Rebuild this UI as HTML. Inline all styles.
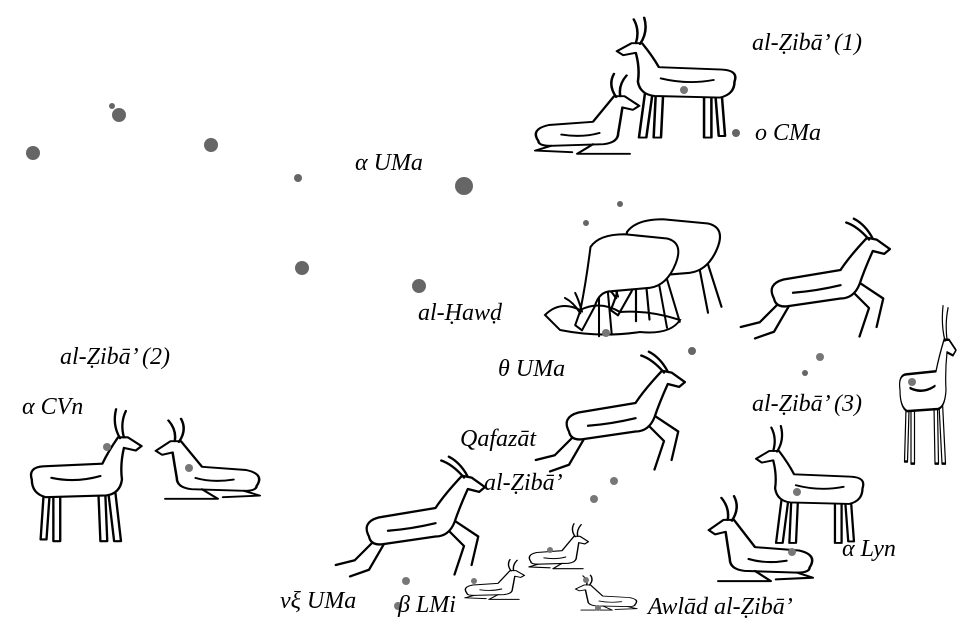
<!DOCTYPE html>
<html><head><meta charset="utf-8"><style>
html,body{margin:0;padding:0;background:#fff}
svg{display:block}
text{font-family:"Liberation Serif",serif;font-style:italic;font-size:24px;fill:#000}
.g path,.g rect{stroke:#000;stroke-width:2.4;fill:#fff;stroke-linejoin:round;stroke-linecap:round}
.g .l{fill:none}
</style></head><body>
<svg width="975" height="627" viewBox="0 0 975 627">
<defs>
<g id="stand" class="g">
<path d="M22,80 l-3,50 l6,0 l3,-48 Z"/><path d="M32,80 l0,52 l7,0 l0,-52 Z"/>
<path d="M78,78 l2,54 l7,0 l-2,-54 Z"/><path d="M88,76 l6,56 l7,0 l-6,-58 Z"/>
<path d="M10,62 Q6,48 22,47 L82,44 Q88,30 98,14 L108,14 L122,24 L116,29 L104,26 Q100,45 102,62 Q100,78 86,80 L24,82 Q10,78 10,62 Z"/>
<path class="l" d="M100,15 Q92,0 96,-18 M104,14 Q100,-2 106,-16 M30,60 Q55,66 80,58"/>
</g>
<g id="sit" class="g">
<path d="M8,70 Q0,55 18,50 L60,46 Q70,30 80,14 L90,14 L104,26 L98,31 L88,28 Q86,45 84,60 Q84,72 70,74 L20,76 Q8,76 8,70 Z"/>
<path class="l" d="M82,15 Q74,0 80,-14 M86,14 Q84,0 92,-12 M20,76 L5,82 L40,84 M60,74 L45,86 L95,86 M30,62 Q50,66 66,60"/>
</g>
<g id="leap" class="g">
<path class="l" d="M30,70 L5,95 L-15,100 M38,74 L20,105 L0,112 M100,60 L120,80 L110,110 M108,52 L135,70 L128,100"/>
<path d="M20,70 Q12,55 30,50 L90,40 Q100,25 118,6 L128,8 L142,18 L136,23 L124,20 Q115,40 110,55 Q104,70 90,70 L35,78 Q22,80 20,70 Z"/>
<path class="l" d="M120,8 Q108,-6 96,-10 M124,7 Q116,-8 104,-14 M40,64 Q65,62 90,56"/>
</g>
<g id="graze" class="g">
<path class="l" d="M40,70 l0,55 M50,68 l5,55 M110,60 l10,55 M120,58 l15,50"/>
<path d="M30,20 Q40,5 70,5 L120,10 Q140,15 130,40 Q120,65 100,68 L55,72 Q40,72 35,90 L20,118 L12,112 L18,95 Q25,60 30,20 Z"/>
<path class="l" d="M18,98 Q10,85 0,80 M20,96 Q16,82 12,74"/>
</g>
</defs>

<g fill="#666">
<circle cx="33" cy="153" r="7"/><circle cx="119" cy="115" r="7"/><circle cx="112" cy="106" r="3"/>
<circle cx="211" cy="145" r="7"/><circle cx="298" cy="178" r="4"/><circle cx="464" cy="186" r="9"/>
<circle cx="302" cy="268" r="7"/><circle cx="419" cy="286" r="7"/><circle cx="586" cy="223" r="3"/>
<circle cx="620" cy="204" r="3"/><circle cx="692" cy="351" r="4"/><circle cx="736" cy="133" r="4"/>
<circle cx="805" cy="373" r="3"/>
</g>

<use href="#stand" transform="translate(745,32) scale(-1,1) scale(1.05,0.8)"/>
<use href="#sit" transform="translate(530,85) scale(1.05,0.8)"/>
<use href="#graze" transform="translate(600,215) scale(0.9,0.85)"/>
<use href="#graze" transform="translate(565,230) scale(0.85,0.85)"/>
<path d="M545,315 Q560,300 580,310 Q600,300 620,312 Q650,310 680,320 Q670,335 640,332 Q600,338 560,330 Z" fill="none" stroke="#000" stroke-width="2"/>
<use href="#leap" transform="translate(755,232) scale(0.95,0.95)"/>
<use href="#stand" transform="translate(895,325) scale(0.5,1.05)"/>
<use href="#leap" transform="translate(550,365) scale(0.95,0.95)"/>
<use href="#leap" transform="translate(350,470) scale(0.95,0.95)"/>
<use href="#stand" transform="translate(22,425) scale(0.98,0.88)"/>
<use href="#sit" transform="translate(265,430) scale(-1.05,0.8)"/>
<use href="#stand" transform="translate(872,440) scale(-0.95,0.78)"/>
<use href="#sit" transform="translate(818,508) scale(-1.05,0.85)"/>
<use href="#sit" transform="translate(462,565) scale(0.6,0.4)"/>
<use href="#sit" transform="translate(526,530) scale(0.6,0.45)"/>
<use href="#sit" transform="translate(640,580) scale(-0.62,0.35)"/>

<g fill="#777">
<circle cx="684" cy="90" r="4"/><circle cx="606" cy="333" r="4"/><circle cx="820" cy="357" r="4"/>
<circle cx="912" cy="382" r="4"/><circle cx="107" cy="447" r="4"/><circle cx="189" cy="468" r="4"/>
<circle cx="614" cy="481" r="4"/><circle cx="594" cy="499" r="4"/><circle cx="797" cy="492" r="4"/>
<circle cx="792" cy="552" r="4"/><circle cx="406" cy="581" r="4"/><circle cx="398" cy="606" r="4"/>
<circle cx="474" cy="581" r="3"/><circle cx="550" cy="550" r="3"/><circle cx="598" cy="608" r="3"/>
<circle cx="586" cy="580" r="3"/>
</g>

<text x="752" y="50">al-Ẓibā’ (1)</text>
<text x="755" y="140">ο CMa</text>
<text x="355" y="170">α UMa</text>
<text x="418" y="320">al-Ḥawḍ</text>
<text x="498" y="376">θ UMa</text>
<text x="60" y="364">al-Ẓibā’ (2)</text>
<text x="22" y="414">α CVn</text>
<text x="752" y="411">al-Ẓibā’ (3)</text>
<text x="460" y="446">Qafazāt</text>
<text x="484" y="490">al-Ẓibā’</text>
<text x="842" y="556">α Lyn</text>
<text x="280" y="608">νξ UMa</text>
<text x="398" y="612">β LMi</text>
<text x="648" y="614">Awlād al-Ẓibā’</text>
</svg>
</body></html>
